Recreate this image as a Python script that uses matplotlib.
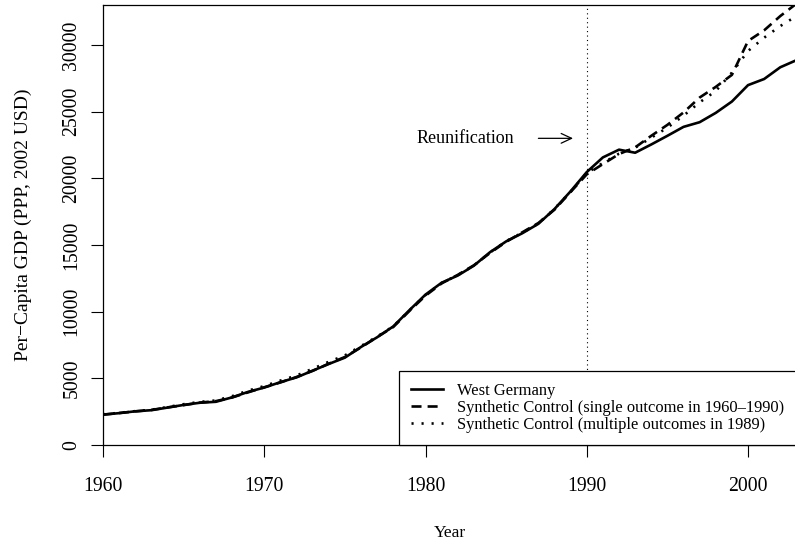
import matplotlib
matplotlib.use("Agg")
import matplotlib.pyplot as plt
import numpy as np

years = list(range(1960, 2004))
west_germany = [2284, 2388, 2527, 2610, 2806, 3005, 3168, 3241, 3571, 3984,
                4308, 4712, 5070, 5574, 6077, 6552, 7353, 8079, 8893, 10110,
                11280, 12170, 12710, 13450, 14460, 15270, 15880, 16590, 17700, 19030,
                20470, 21570, 22150, 21920, 22540, 23190, 23860, 24210, 24910, 25760,
                26990, 27450, 28330, 28860]
synth_single = [2270, 2400, 2520, 2630, 2820, 2990, 3180, 3290, 3560, 3950,
                4330, 4690, 5100, 5560, 6100, 6600, 7320, 8100, 8850, 10050,
                11200, 12120, 12760, 13480, 14400, 15240, 15950, 16650, 17650, 18980,
                20300, 21070, 21820, 22320, 23190, 24010, 24940, 26060, 26860, 27760,
                30300, 31100, 32170, 33100]
synth_multi = [2300, 2410, 2540, 2640, 2850, 3060, 3230, 3340, 3660, 4080,
               4420, 4830, 5210, 5720, 6240, 6720, 7420, 8130, 8900, 10090,
               11250, 12150, 12740, 13460, 14440, 15290, 15920, 16610, 17720, 19000,
               20400, 21150, 21850, 22300, 23050, 23800, 24700, 25700, 26550, 27930,
               29550, 30550, 31420, 32170]
legend_labels = ["West Germany",
                 "Synthetic Control (single outcome in 1960\u20131990)",
                 "Synthetic Control (multiple outcomes in 1989)"]
xticks = [1960, 1970, 1980, 1990, 2000]
yticks = [0, 5000, 10000, 15000, 20000, 25000, 30000]

plt.rcParams['font.family'] = ['Liberation Serif', 'DejaVu Serif']

fig = plt.figure(figsize=(7.95, 5.43), dpi=100)
W, H = 795, 543
left, right, top, bottom = 103, 796.4, 5, 445
ax = fig.add_axes([left / W, (H - bottom) / H, (right - left) / W, (bottom - top) / H])

ax.plot(years, west_germany, color='black', lw=1.9, solid_joinstyle='round')
ax.plot(years, synth_single, color='black', lw=1.9, linestyle=(0, (3.8, 2.3)),
        dash_capstyle='butt')
ax.plot(years, synth_multi, color='black', lw=1.9, linestyle=(0, (0.8, 3.0)),
        dash_capstyle='butt')
ax.axvline(1990, color='black', lw=0.8, linestyle=(0, (1, 3)))

ax.set_xlim(1960, 2003)
ax.set_ylim(0, 33000)
ax.set_xticks(xticks)
ax.set_xticklabels([str(t) for t in xticks])
ax.set_yticks(yticks)
ax.set_yticklabels([str(t) for t in yticks], rotation=90, va='center')
ax.tick_params(axis='both', direction='out', length=8.6, width=0.8, labelsize=14.2)
ax.tick_params(axis='x', pad=14.5)
ax.tick_params(axis='y', pad=7)
for s in ax.spines.values():
    s.set_linewidth(0.9)

ax.set_xlabel("Year", fontsize=12.5, labelpad=21)
ax.set_ylabel("Per\u2212Capita GDP (PPP, 2002 USD)", fontsize=14, labelpad=22)

ax.text(1982.5, 23000, "Reunification", fontsize=13, ha='center', va='center')
ax.annotate("", xy=(1989.15, 23000), xytext=(1987, 23000),
            arrowprops=dict(arrowstyle='->,head_length=0.75,head_width=0.35',
                            color='black', lw=0.9, shrinkA=0, shrinkB=0))

leg = ax.legend(legend_labels, loc='lower right', fontsize=11.9, frameon=True,
                fancybox=False, edgecolor='black', framealpha=1,
                borderaxespad=0, handlelength=1.9, handletextpad=0.85,
                labelspacing=0.05, borderpad=0.75)
leg.get_frame().set_linewidth(0.9)

fig.savefig("out.png", dpi=100)
